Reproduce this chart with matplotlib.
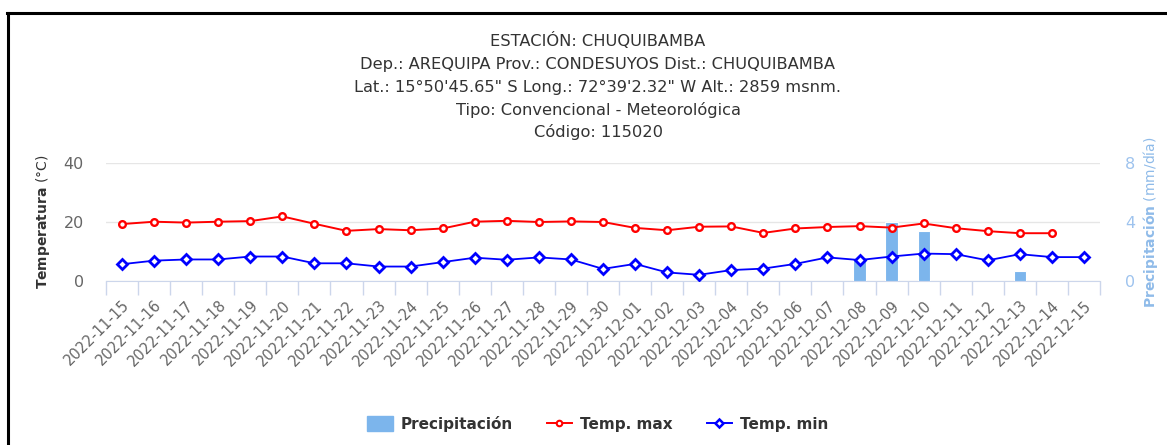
import matplotlib
matplotlib.use('Agg')
import matplotlib.pyplot as plt
from matplotlib.lines import Line2D
from matplotlib.patches import Patch

# data
fechas = ['2022-11-15', '2022-11-16', '2022-11-17', '2022-11-18', '2022-11-19',
          '2022-11-20', '2022-11-21', '2022-11-22', '2022-11-23', '2022-11-24',
          '2022-11-25', '2022-11-26', '2022-11-27', '2022-11-28', '2022-11-29',
          '2022-11-30', '2022-12-01', '2022-12-02', '2022-12-03', '2022-12-04',
          '2022-12-05', '2022-12-06', '2022-12-07', '2022-12-08', '2022-12-09',
          '2022-12-10', '2022-12-11', '2022-12-12', '2022-12-13', '2022-12-14',
          '2022-12-15']
temp_max = [19.3, 20.1, 19.8, 20.1, 20.3, 21.9, 19.4, 17.0, 17.6, 17.2,
            17.8, 20.1, 20.4, 20.0, 20.2, 20.0, 18.0, 17.2, 18.4, 18.5,
            16.3, 17.8, 18.3, 18.6, 18.1, 19.5, 17.9, 16.9, 16.2, 16.2,
            None]
temp_min = [5.7, 6.9, 7.3, 7.3, 8.3, 8.3, 6.0, 6.0, 4.9, 4.9,
            6.4, 7.9, 7.2, 8.0, 7.3, 4.1, 5.8, 2.9, 2.1, 3.7,
            4.2, 5.8, 8.0, 7.1, 8.3, 9.3, 9.1, 7.0, 9.1, 8.1,
            8.1]
precip = [0, 0, 0, 0, 0, 0, 0, 0, 0, 0,
          0, 0, 0, 0, 0, 0, 0, 0, 0, 0,
          0, 0, 0, 1.4, 4.0, 3.4, 0, 0, 0.65, 0,
          0]

titulo = ['ESTACIÓN: CHUQUIBAMBA',
          'Dep.: AREQUIPA Prov.: CONDESUYOS Dist.: CHUQUIBAMBA',
          'Lat.: 15°50\'45.65" S Long.: 72°39\'2.32" W Alt.: 2859 msnm.',
          'Tipo: Convencional - Meteorológica',
          'Código: 115020']

W, H = 1167, 445
fig = plt.figure(figsize=(W / 100, H / 100), dpi=100)

# plot area in pixels: x 106..1100, y 163..281
ax2 = fig.add_axes([106 / W, 1 - 281 / H, 994 / W, 118 / H])
ax = ax2.twinx()
ax.set_zorder(ax2.get_zorder() + 1)
ax.patch.set_visible(False)

x = list(range(len(fechas)))

# precipitation bars (right axis)
ax2.bar(x, precip, width=0.38, color='#7cb5ec', edgecolor='white', linewidth=0.8, zorder=2)
ax2.set_ylim(0, 8)
ax2.set_yticks([0, 4, 8])
ax2.yaxis.tick_right()
ax2.yaxis.set_label_position('right')
ax2.tick_params(axis='y', length=0, labelsize=11.5, labelcolor='#9ec3ee', pad=18)
ax2.set_ylabel(r'$\bf{Precipitación}$ (mm/día)', color='#8fbbe9', fontsize=10, labelpad=4)
for s in ax2.spines.values():
    s.set_visible(False)

# temperature lines (left axis)
xm = [i for i, v in zip(x, temp_max) if v is not None]
ym = [v for v in temp_max if v is not None]
ax.plot(xm, ym, color='#ff0000', lw=1.4, marker='o', ms=4.8, mfc='white', mec='#ff0000', mew=1.7, zorder=4)
ax.plot(x, temp_min, color='#0000ff', lw=1.3, marker='D', ms=4.6, mfc='white', mec='#0000ff', mew=2, zorder=4)
ax.yaxis.tick_left()
ax.yaxis.set_label_position('left')
ax.set_ylim(0, 40)
ax.set_yticks([0, 20, 40])
ax.tick_params(axis='y', length=0, labelsize=11.5, labelcolor='#666666', pad=16)
ax.set_ylabel(r'$\bf{Temperatura}$ (°C)', color='#333333', fontsize=10, labelpad=8)
for s in ax.spines.values():
    s.set_visible(False)

# grid on the lower axes so it sits behind the bars
for v in [0, 4, 8]:
    ax2.axhline(v, color='#e6e6e6', lw=1, zorder=0)
ax2.spines['bottom'].set_visible(True)
ax2.spines['bottom'].set_color('#ccd6eb')
ax2.spines['bottom'].set_zorder(1)

ax2.set_xlim(-0.5, len(fechas) - 0.5)
ax.set_xlim(-0.5, len(fechas) - 0.5)
ax2.set_xticks(x)
ax2.set_xticklabels(fechas, rotation=45, ha='right', va='top', rotation_mode='anchor')
ax2.set_xticks([i - 0.5 for i in range(len(fechas) + 1)], minor=True)
ax2.tick_params(axis='x', which='major', length=0, labelsize=10.5, labelcolor='#666666', pad=12)
ax2.tick_params(axis='x', which='minor', length=10, color='#ccd6eb', width=1)
ax.tick_params(axis='x', which='both', length=0, labelbottom=False)

# titles
ys = [41, 65, 87.5, 110, 132]
for i, t in enumerate(titulo):
    fig.text(598 / W, 1 - ys[i] / H, t, ha='center', va='center', fontsize=11.7, color='#333333')

# legend
handles = [Patch(facecolor='#7cb5ec', edgecolor='#7cb5ec'),
           Line2D([], [], color='#ff0000', lw=1.4, marker='o', ms=4, mfc='white', mec='#ff0000', mew=1.5),
           Line2D([], [], color='#0000ff', lw=1.4, marker='D', ms=4, mfc='white', mec='#0000ff', mew=1.8)]
leg = fig.legend(handles, ['Precipitación', 'Temp. max', 'Temp. min'], loc='center',
                 bbox_to_anchor=(598 / W, 1 - 424 / H), ncol=3, frameon=False,
                 prop={'weight': 'bold', 'size': 11}, handlelength=1.65, handleheight=1.15,
                 columnspacing=2.2, handletextpad=0.55)
for t in leg.get_texts():
    t.set_color('#333333')

# black frame on top and left
fig.add_artist(Line2D([7 / W, 1], [1 - 13 / H, 1 - 13 / H], transform=fig.transFigure, color='black', lw=2.2))
fig.add_artist(Line2D([8 / W, 8 / W], [0, 1 - 13 / H], transform=fig.transFigure, color='black', lw=2.2))

fig.savefig('out.png', dpi=100)
